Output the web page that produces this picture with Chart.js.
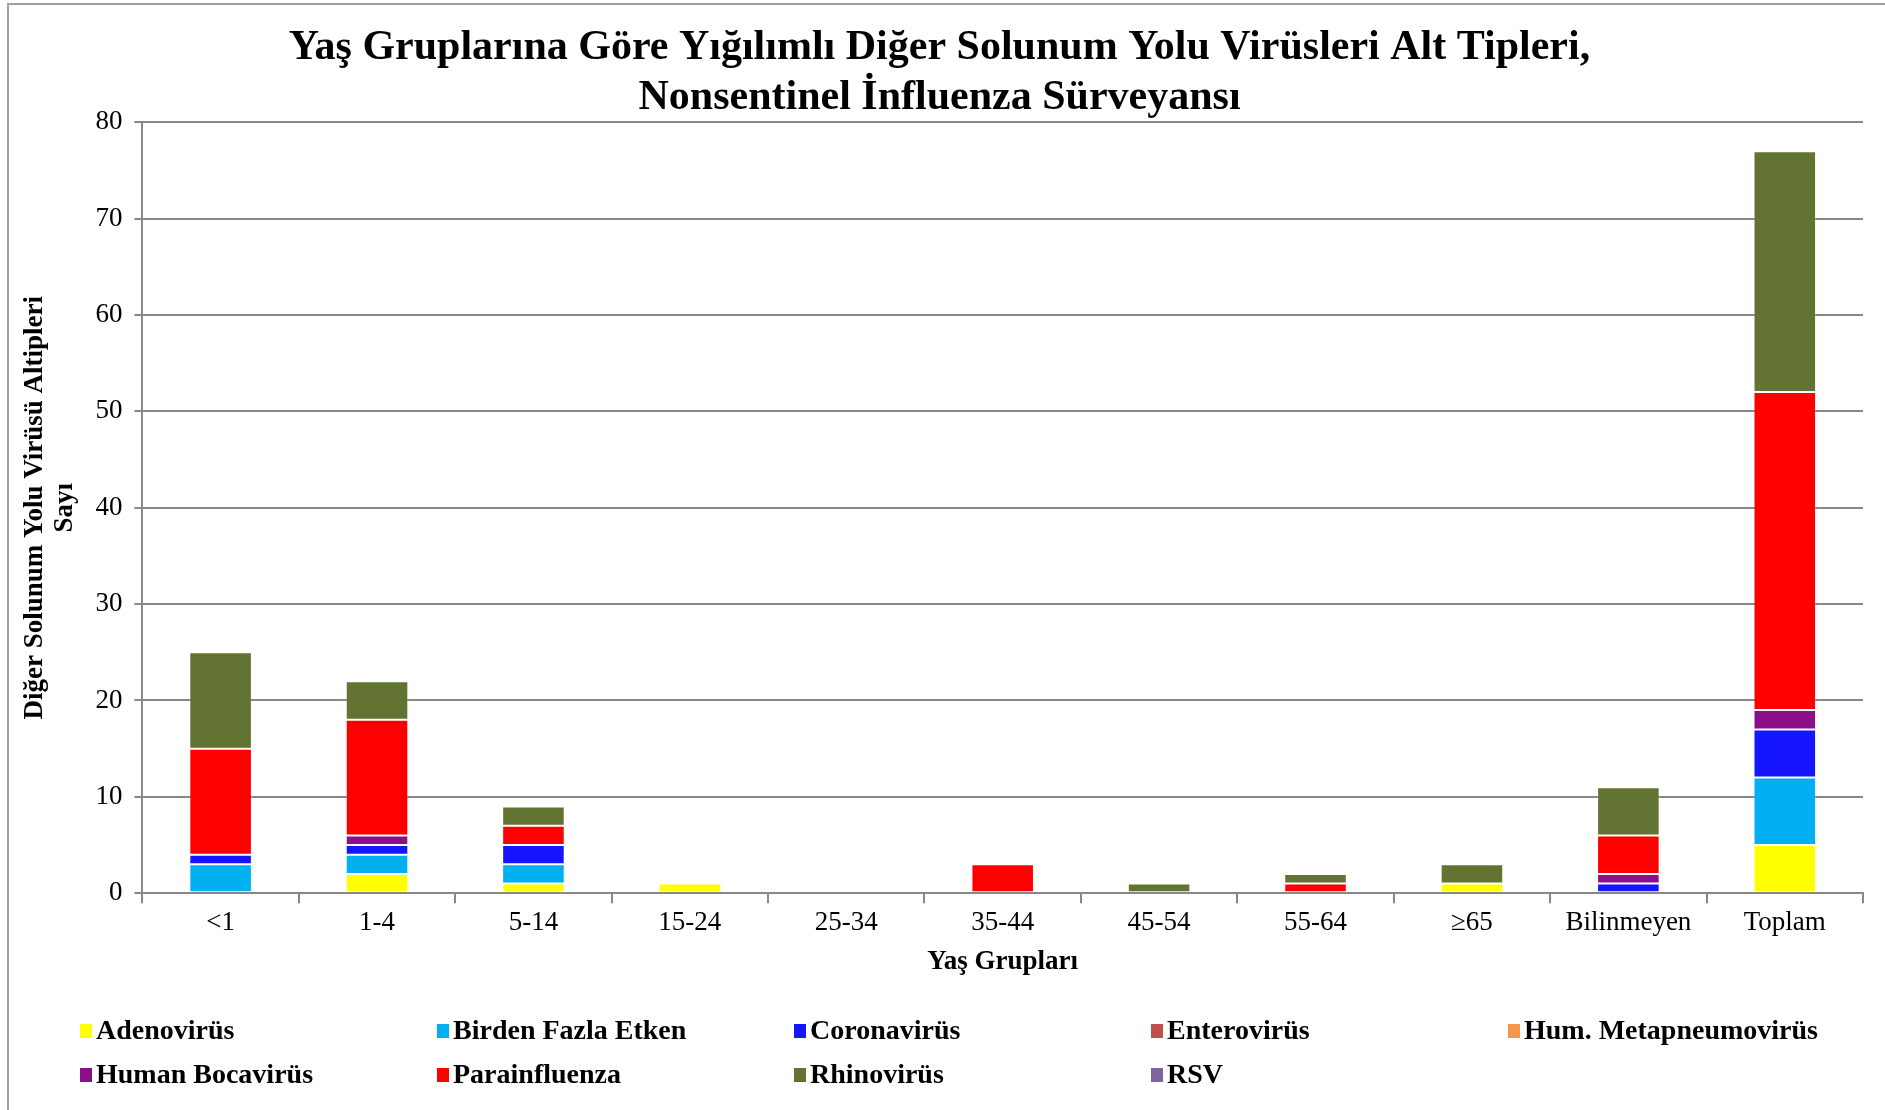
<!DOCTYPE html>
<html>
<head>
<meta charset="utf-8">
<script src="https://cdn.jsdelivr.net/npm/chart.js@4"></script>
<style>
  body { margin: 0; background: #fff; }
  #frame { position: absolute; left: 7px; top: 3px; width: 1878px; height: 1107px;
           border-left: 2px solid #a0a0a0; border-top: 2px solid #a0a0a0; pointer-events: none; }
  canvas { position: absolute; left: 0; top: 0; }
</style>
</head>
<body>
<canvas id="chart" width="1885" height="1110"></canvas>
<div id="frame"></div>
<script>
// yaş grupları
const labels = ['<1', '1-4', '5-14', '15-24', '25-34', '35-44', '45-54', '55-64', '≥65', 'Bilinmeyen', 'Toplam'];

// virüs alt tipleri (her yaş grubu için sayı)
const adenovirus   = [0, 2, 1, 1, 0, 0, 0, 0, 1, 0, 5];
const birdenFazla  = [3, 2, 2, 0, 0, 0, 0, 0, 0, 0, 7];
const coronavirus  = [1, 1, 2, 0, 0, 0, 0, 0, 0, 1, 5];
const enterovirus  = [0, 0, 0, 0, 0, 0, 0, 0, 0, 0, 0];
const metapneumo   = [0, 0, 0, 0, 0, 0, 0, 0, 0, 0, 0];
const bocavirus    = [0, 1, 0, 0, 0, 0, 0, 0, 0, 1, 2];
const parainfluenza= [11, 12, 2, 0, 0, 3, 0, 1, 0, 4, 33];
const rhinovirus   = [10, 4, 2, 0, 0, 0, 1, 1, 2, 5, 25];
const rsv          = [0, 0, 0, 0, 0, 0, 0, 0, 0, 0, 0];

const seriesNames = ['Adenovirüs', 'Birden Fazla Etken', 'Coronavirüs', 'Enterovirüs', 'Hum. Metapneumovirüs',
                     'Human Bocavirüs', 'Parainfluenza', 'Rhinovirüs', 'RSV'];
const seriesData = [adenovirus, birdenFazla, coronavirus, enterovirus, metapneumo,
                    bocavirus, parainfluenza, rhinovirus, rsv];
const seriesColors = ['#FFFF00', '#00B0F0', '#1515FF', '#C0504D', '#F79646',
                      '#8B0F87', '#FF0000', '#637432', '#8064A2'];

const FONT = "'Liberation Serif', 'Times New Roman', serif";

// 격자형 범례 (5열)
const gridLegend = {
  id: 'gridLegend',
  afterDraw(chart) {
    const ctx = chart.ctx;
    ctx.save();
    ctx.font = 'bold 28px ' + FONT;
    ctx.textBaseline = 'middle';
    chart.data.datasets.forEach((ds, i) => {
      const x = 80 + (i % 5) * 357;
      const y = 1031 + Math.floor(i / 5) * 44;
      ctx.fillStyle = ds.backgroundColor;
      ctx.fillRect(x, y - 7, 12, 14);
      ctx.fillStyle = '#000';
      ctx.fillText(ds.label, x + 16, y + 1);
    });
    ctx.restore();
  }
};

new Chart(document.getElementById('chart'), {
  type: 'bar',
  data: {
    labels: labels,
    datasets: seriesNames.map((name, i) => ({
      label: name,
      data: seriesData[i],
      backgroundColor: seriesColors[i],
      borderColor: 'rgba(255,255,255,0.2)',
      borderWidth: 1,
      borderSkipped: false,
      barPercentage: 0.4,
      categoryPercentage: 1.0
    }))
  },
  plugins: [gridLegend],
  options: {
    responsive: false,
    animation: false,
    layout: { padding: { left: 16, right: 22, top: 0, bottom: 128 } },
    plugins: {
      legend: { display: false },
      tooltip: { enabled: false },
      title: {
        display: true,
        text: ['Yaş Gruplarına Göre Yığılımlı Diğer Solunum Yolu Virüsleri Alt Tipleri,', 'Nonsentinel İnfluenza Sürveyansı'],
        color: '#000',
        font: { family: FONT, size: 42, weight: 'bold', lineHeight: 1.17 },
        padding: { top: 24, bottom: 0 }
      }
    },
    scales: {
      x: {
        stacked: true,
        grid: { offset: true, drawOnChartArea: false, drawTicks: true, tickLength: 10, color: '#888', lineWidth: 2 },
        border: { display: true, color: '#888', width: 2 },
        ticks: { color: '#000', font: { family: FONT, size: 27 }, padding: 4, maxRotation: 0, autoSkip: false },
        title: { display: true, text: 'Yaş Grupları', color: '#000', font: { family: FONT, size: 27, weight: 'bold' }, padding: { top: 2 } }
      },
      y: {
        stacked: true,
        min: 0,
        max: 80,
        grid: { color: '#888', lineWidth: 2, drawTicks: true, tickLength: 8 },
        border: { display: true, color: '#888', width: 2 },
        ticks: { stepSize: 10, color: '#000', font: { family: FONT, size: 27 }, padding: 12 },
        title: { display: true, text: ['Diğer Solunum Yolu Virüsü Altipleri', 'Sayı'], color: '#000',
                 font: { family: FONT, size: 27, weight: 'bold', lineHeight: 1.1 }, padding: { bottom: 4 } }
      }
    }
  }
});
</script>
</body>
</html>
